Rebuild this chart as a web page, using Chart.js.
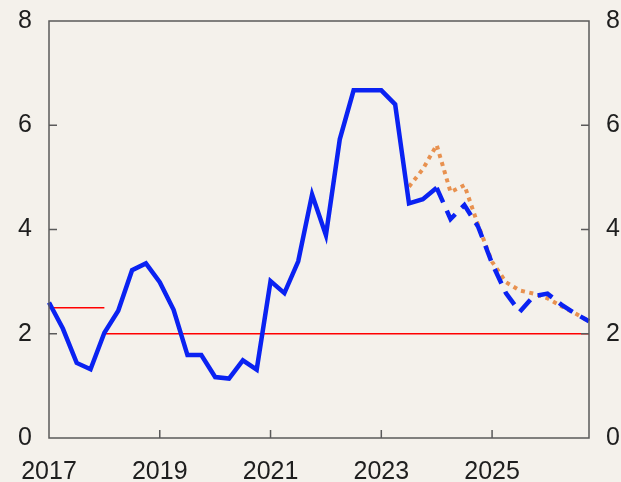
<!DOCTYPE html>
<html>
    <head>
        <meta charset="utf-8">
        <script src="https://cdn.jsdelivr.net/npm/chart.js@4.4.1/dist/chart.umd.min.js"></script>
        <style>
            html, body { margin: 0; padding: 0; background: #f4f1eb; }
            canvas { display: block; }
        </style>
    </head>
    <body>
        <canvas id="inflationChart" width="621" height="482"></canvas>

        <script type="text/javascript">

        // quarters along the x axis, 2017Q1 .. 2026Q4
        const quarters = [
            '2017Q1','2017Q2','2017Q3','2017Q4','2018Q1','2018Q2','2018Q3','2018Q4',
            '2019Q1','2019Q2','2019Q3','2019Q4','2020Q1','2020Q2','2020Q3','2020Q4',
            '2021Q1','2021Q2','2021Q3','2021Q4','2022Q1','2022Q2','2022Q3','2022Q4',
            '2023Q1','2023Q2','2023Q3','2023Q4','2024Q1','2024Q2','2024Q3','2024Q4',
            '2025Q1','2025Q2','2025Q3','2025Q4','2026Q1','2026Q2','2026Q3','2026Q4'
        ];
        const yearTicks = ['2017', '2019', '2021', '2023', '2025'];
        const valueTicks = [0, 2, 4, 6, 8];

        const outcome = [
            2.60, 2.10, 1.44, 1.32, 2.02, 2.44, 3.22, 3.35,
            2.99, 2.46, 1.59, 1.59, 1.17, 1.14, 1.49, 1.31,
            3.01, 2.78, 3.39, 4.67, 3.89, 5.73, 6.67, 6.67,
            6.67, 6.40, 4.50, 4.58, 4.80, null, null, null,
            null, null, null, null, null, null, null, null
        ];
        const forecast = [
            null, null, null, null, null, null, null, null,
            null, null, null, null, null, null, null, null,
            null, null, null, null, null, null, null, null,
            null, null, null, null, 4.80, 4.20, 4.47, 4.05,
            3.35, 2.78, 2.42, 2.72, 2.77, 2.56, 2.39, 2.24
        ];
        const prevForecast = [
            null, null, null, null, null, null, null, null,
            null, null, null, null, null, null, null, null,
            null, null, null, null, null, null, null, null,
            null, null, 4.82, 5.16, 5.62, 4.72, 4.85, 4.08,
            3.38, 2.99, 2.83, 2.77, 2.68, 2.53, 2.39, 2.24
        ];
        const targetOld = [
            2.5, 2.5, 2.5, 2.5, 2.5, null, null, null,
            null, null, null, null, null, null, null, null,
            null, null, null, null, null, null, null, null,
            null, null, null, null, null, null, null, null,
            null, null, null, null, null, null, null, null
        ];
        const targetNew = [
            null, null, null, null, 2, 2, 2, 2,
            2, 2, 2, 2, 2, 2, 2, 2,
            2, 2, 2, 2, 2, 2, 2, 2,
            2, 2, 2, 2, 2, 2, 2, 2,
            2, 2, 2, 2, 2, 2, 2, 2
        ];

        const BLUE = '#0a22f2';
        const ORANGE = '#e8914f';
        const RED = '#ff0000';
        const FONT = { family: '"Liberation Sans", Arial, sans-serif', size: 25 };

        // box around the plot with inward tick marks
        const frame = {
            id: 'frame',
            afterDatasetsDraw(chart) {
                const ctx = chart.ctx;
                const a = chart.chartArea;
                const x = chart.scales.x, y = chart.scales.y;
                ctx.save();
                ctx.strokeStyle = '#5a5a5a';
                ctx.lineWidth = 1.5;
                ctx.strokeRect(a.left, a.top, a.right - a.left, a.bottom - a.top);
                ctx.beginPath();
                valueTicks.slice(1, -1).forEach(function(v) {
                    const py = y.getPixelForValue(v);
                    ctx.moveTo(a.left, py); ctx.lineTo(a.left + 8, py);
                    ctx.moveTo(a.right, py); ctx.lineTo(a.right - 8, py);
                });
                yearTicks.slice(1).forEach(function(yr) {
                    const px = x.getPixelForValue(quarters.indexOf(yr + 'Q1'));
                    ctx.moveTo(px, a.bottom); ctx.lineTo(px, a.bottom - 8);
                });
                ctx.stroke();
                ctx.restore();
            }
        };

        const yAxis = function(pos, width) {
            return {
                position: pos,
                min: 0,
                max: 8,
                grid: { display: false, drawTicks: false },
                border: { display: false },
                ticks: { stepSize: 2, padding: 17, color: '#1e1e1e', font: FONT },
                afterFit: function(s) {
                    s.width = width;
                    s.paddingTop = 0;
                    s.paddingBottom = 0;
                }
            };
        };

        new Chart(document.getElementById('inflationChart'), {
            type: 'line',
            data: {
                labels: quarters,
                datasets: [
                    { data: outcome, borderColor: BLUE, borderWidth: 4.5, borderJoinStyle: 'miter' },
                    { data: forecast, borderColor: BLUE, borderWidth: 4.5, borderDash: [16, 9] },
                    { data: prevForecast, borderColor: ORANGE, borderWidth: 4, borderDash: [4, 4.5] },
                    { data: targetOld, borderColor: RED, borderWidth: 1.5 },
                    { data: targetNew, borderColor: RED, borderWidth: 1.5 }
                ]
            },
            options: {
                responsive: false,
                animation: false,
                layout: { padding: { top: 21 } },
                elements: { point: { radius: 0 }, line: { tension: 0, fill: false } },
                plugins: { legend: { display: false }, tooltip: { enabled: false } },
                scales: {
                    x: {
                        type: 'category',
                        offset: false,
                        grid: { display: false, drawTicks: false },
                        border: { display: false },
                        ticks: {
                            autoSkip: false,
                            maxRotation: 0,
                            padding: 19,
                            color: '#1e1e1e',
                            font: FONT,
                            callback: function(v) {
                                const q = quarters[v];
                                const yr = q.slice(0, 4);
                                return (q.endsWith('Q1') && yearTicks.includes(yr)) ? yr : '';
                            }
                        },
                        afterFit: function(s) {
                            s.height = 44;
                            s.paddingLeft = 0;
                            s.paddingRight = 0;
                        }
                    },
                    y: yAxis('left', 49),
                    y2: yAxis('right', 32)
                }
            },
            plugins: [frame]
        });

        </script>
    </body>
</html>
